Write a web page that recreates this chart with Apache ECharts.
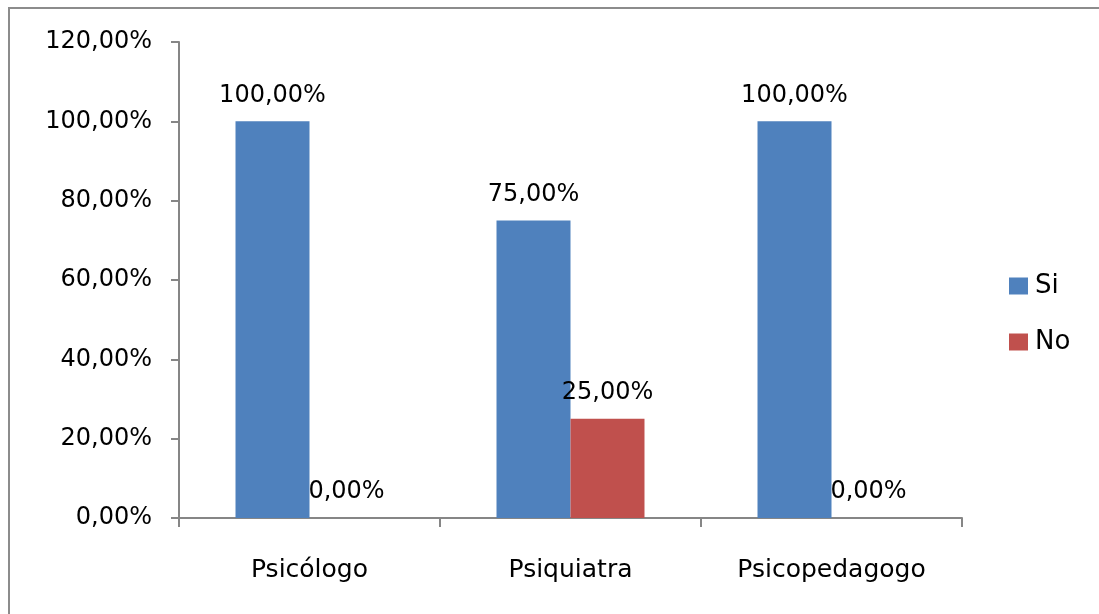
<!DOCTYPE html>
<html>
<head>
<meta charset="utf-8">
<script src="https://cdn.jsdelivr.net/npm/echarts@6/dist/echarts.min.js"></script>
<style>
  html, body { margin: 0; padding: 0; background: #ffffff; overflow: hidden; }
  #wrap { position: relative; width: 1099px; height: 614px; overflow: hidden; }
  #chart { position: absolute; left: 0; top: 0; width: 1099px; height: 614px; }
  #frame {
    position: absolute; left: 8px; top: 7px; width: 1200px; height: 700px;
    border-left: 2px solid #8c8c8c; border-top: 2px solid #8c8c8c;
    pointer-events: none;
  }
</style>
</head>
<body>
<div id="wrap">
  <div id="chart"></div>
  <div id="frame"></div>
</div>
<script>
// Share of respondents per professional, answering "Si" / "No"
const categories = ['Psicólogo', 'Psiquiatra', 'Psicopedagogo'];
const seriesNames = ['Si', 'No'];
const siValues = [100, 75, 100];
const noValues = [0, 25, 0];
const yTicks = { min: 0, max: 120, step: 20 };

const FONT = 'DejaVu Sans';
const fmt = v => v.toFixed(2).replace('.', ',') + '%';

const chart = echarts.init(document.getElementById('chart'), null, { renderer: 'canvas' });

const labelStyle = {
  show: true,
  position: 'top',
  distance: 14,
  fontFamily: FONT,
  fontSize: 24,
  color: '#000000',
  formatter: p => fmt(p.value)
};

chart.setOption({
  animation: false,
  backgroundColor: '#ffffff',
  grid: { left: 179, right: 137, top: 42, bottom: 96, containLabel: false },
  legend: {
    orient: 'vertical',
    left: 1004,
    top: 268,
    itemWidth: 19,
    itemHeight: 17,
    itemGap: 30,
    icon: 'rect',
    textStyle: { fontFamily: FONT, fontSize: 26, color: '#000000', padding: [0, 0, 0, 2] },
    data: seriesNames
  },
  xAxis: {
    type: 'category',
    data: categories,
    axisLine: { lineStyle: { color: '#868686', width: 2 } },
    axisTick: { show: true, length: 9, lineStyle: { color: '#868686', width: 2 } },
    axisLabel: { fontFamily: FONT, fontSize: 25, color: '#000000', margin: 40 },
    splitLine: { show: false }
  },
  yAxis: {
    type: 'value',
    min: yTicks.min,
    max: yTicks.max,
    interval: yTicks.step,
    axisLine: { show: true, lineStyle: { color: '#868686', width: 2 } },
    axisTick: { show: true, length: 8, lineStyle: { color: '#868686', width: 2 } },
    axisLabel: { fontFamily: FONT, fontSize: 24, color: '#000000', margin: 27, formatter: v => fmt(v) },
    splitLine: { show: false }
  },
  series: [
    {
      name: seriesNames[0],
      type: 'bar',
      data: siValues,
      barGap: '0%',
      barCategoryGap: '43.3%',
      itemStyle: { color: '#4F81BD' },
      label: labelStyle
    },
    {
      name: seriesNames[1],
      type: 'bar',
      data: noValues,
      barGap: '0%',
      barCategoryGap: '43.3%',
      itemStyle: { color: '#C0504D' },
      label: labelStyle
    }
  ]
});
</script>
</body>
</html>
